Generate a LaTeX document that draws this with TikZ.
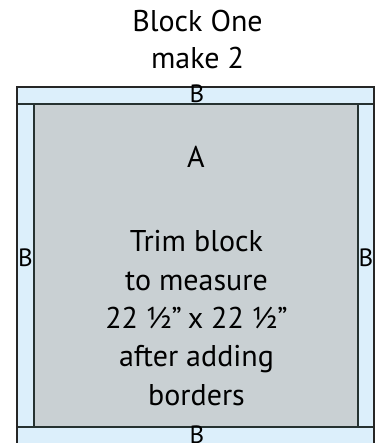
\documentclass[tikz,border=0pt]{standalone}
\usepackage{fontspec}
\setmainfont{PT Sans}
\usepackage{tikz}
\definecolor{borderblue}{HTML}{DCEFFB}
\definecolor{centergray}{HTML}{C9D0D3}
\definecolor{seamgray}{HTML}{263231}

\tikzset{
	label text/.style = {inner sep = 0pt, anchor = base, font = \fontsize{25}{25}\selectfont},
	block text/.style = {inner sep = 0pt, anchor = base, align = center, font = \fontsize{30}{38.3}\selectfont},
	title text/.style = {inner sep = 0pt, anchor = base, align = center, font = \fontsize{30}{37.3}\selectfont}
}

\begin{document}
\begin{tikzpicture}[x=1pt, y=-1pt]
					\def\xMIN{17};
					\def\xMAX{374};
					\def\yMIN{87};
					\def\yMAX{446};
					\def\xIN{34};
					\def\xOUT{358};
					\def\yIN{104};
					\def\yOUT{427};

					\useasboundingbox (0,0) rectangle (378,443);

					\begin{scope}
						\fill [borderblue] (\xMIN,\yMIN) rectangle (\xMAX,\yMAX);
						\fill [centergray] (\xIN,\yIN) rectangle (\xOUT,\yOUT);
					\end{scope}

					\begin{scope}[line width = 1.6pt, seamgray]
						\draw (\xMIN,\yIN) -- (\xMAX,\yIN);
						\draw (\xMIN,\yOUT) -- (\xMAX,\yOUT);
						\draw (\xIN,\yIN) -- (\xIN,\yOUT);
						\draw (\xOUT,\yIN) -- (\xOUT,\yOUT);
					\end{scope}

					\begin{scope}[line width = 1.1pt, black!85]
						\draw (\xMIN,\yMAX) -- (\xMIN,\yMIN) -- (\xMAX,\yMIN) -- (\xMAX,\yMAX);
					\end{scope}

					% base anchor sits on the last line
					\begin{scope}
						\node [title text] (title) at (197.5,69) {Block One\\make 2};
						\node [block text] (patchA) at (196,168) {A};
						\node [block text] (trim) at (196.5,405) {Trim block\\to measure\\22 ½”\kern-2pt{} x 22 ½”\\after adding\\borders};
					\end{scope}

					\begin{scope}
						\node [label text] (topB) at (197,103) {B};
						\node [label text] (leftB) at (25.5,266) {B};
						\node [label text] (rightB) at (366,266) {B};
						\node [label text] (bottomB) at (197,443) {B};
					\end{scope}
				\end{tikzpicture}
\end{document}
